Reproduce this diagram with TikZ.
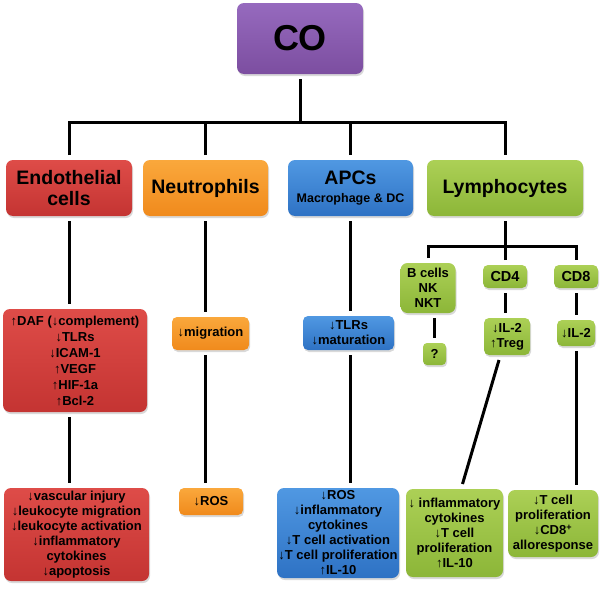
\documentclass[tikz,border=0pt]{standalone}
\usepackage{fontspec}
\setmainfont{Liberation Sans}
\usetikzlibrary{shadows}

\definecolor{purpT}{RGB}{150,106,190}
\definecolor{purpB}{RGB}{124,78,160}
\definecolor{redT}{RGB}{222,76,72}
\definecolor{redB}{RGB}{196,52,50}
\definecolor{oranT}{RGB}{250,168,60}
\definecolor{oranB}{RGB}{240,138,28}
\definecolor{bluT}{RGB}{80,152,226}
\definecolor{bluB}{RGB}{46,114,196}
\definecolor{grnT}{RGB}{172,208,86}
\definecolor{grnB}{RGB}{140,182,56}

\tikzset{
  box/.style={rounded corners=7pt, inner sep=0pt, outer sep=5pt, align=center,
    font=\bfseries\fontsize{13}{15}\selectfont,
    drop shadow={opacity=0.3, shadow xshift=1pt, shadow yshift=-2pt}},
  purpbox/.style={box, top color=purpT, bottom color=purpB},
  redbox/.style={box, top color=redT, bottom color=redB},
  oranbox/.style={box, top color=oranT, bottom color=oranB},
  blubox/.style={box, top color=bluT, bottom color=bluB},
  grnbox/.style={box, top color=grnT, bottom color=grnB},
  head/.style={font=\bfseries\fontsize{19.5}{21}\selectfont},
  link/.style={line width=3pt}
}

\begin{document}
\begin{tikzpicture}[x=1pt,y=-1pt]
\useasboundingbox (0,0) rectangle (600,589);

% top
\node[purpbox, minimum width=126pt, minimum height=71pt, font=\bfseries\fontsize{36}{36}\selectfont] (co) at (300,38.5) {CO};

% cell types
\node[redbox, head, minimum width=126pt, minimum height=56pt] (endo) at (69,188) {Endothelial\\cells};
\node[oranbox, head, minimum width=125pt, minimum height=56pt] (neut) at (205.5,188) {Neutrophils};
\node[blubox, head, minimum width=125pt, minimum height=56pt] (apc) at (350.5,188) {APCs\\[-3pt]{\fontsize{12.5}{14}\selectfont Macrophage \& DC}};
\node[grnbox, head, minimum width=156pt, minimum height=56pt] (lymph) at (505,188) {Lymphocytes};

% lymphocyte subsets
\node[grnbox, minimum width=55pt, minimum height=50pt] (bcell) at (428,288) {B cells\\NK\\NKT};
\node[grnbox, minimum width=44pt, minimum height=23pt, rounded corners=5pt, font=\bfseries\fontsize{14.5}{15}\selectfont] (cd4) at (505,276.5) {CD4};
\node[grnbox, minimum width=44pt, minimum height=23pt, rounded corners=5pt, font=\bfseries\fontsize{14.5}{15}\selectfont] (cd8) at (576,276.5) {CD8};

% middle row
\node[redbox, minimum width=144pt, minimum height=103pt, font=\bfseries\fontsize{13}{16}\selectfont] (endoA) at (75,360.5) {↑DAF (↓complement)\\↓TLRs\\↓ICAM-1\\↑VEGF\\↑HIF-1a\\↑Bcl-2};
\node[oranbox, minimum width=77pt, minimum height=33pt, rounded corners=5pt] (neutA) at (210.5,333.5) {↓migration};
\node[blubox, minimum width=91pt, minimum height=34pt, rounded corners=5pt] (apcA) at (348.5,333) {↓TLRs\\↓maturation};
\node[grnbox, minimum width=23pt, minimum height=22pt, rounded corners=4pt] (unk) at (434.5,354) {?};
\node[grnbox, minimum width=46pt, minimum height=37pt, rounded corners=5pt] (cd4A) at (507,336.5) {↓IL-2\\↑Treg};
\node[grnbox, minimum width=38pt, minimum height=26pt, rounded corners=5pt] (cd8A) at (576,333) {↓IL-2};

% bottom row
\node[redbox, minimum width=145pt, minimum height=93pt] (endoB) at (76.5,534.5) {↓vascular injury\\↓leukocyte migration\\↓leukocyte activation\\↓inflammatory\\cytokines\\↓apoptosis};
\node[oranbox, minimum width=64pt, minimum height=27pt, rounded corners=5pt] (neutB) at (211,501.5) {↓ROS};
\node[blubox, minimum width=122pt, minimum height=90pt] (apcB) at (338,533) {↓ROS\\↓inflammatory\\cytokines\\↓T cell activation\\↓T cell proliferation\\↑IL-10};
\node[grnbox, minimum width=97pt, minimum height=88pt] (cd4B) at (454.5,533) {↓ inflammatory\\cytokines\\↓T cell\\proliferation\\↑IL-10};
\node[grnbox, minimum width=90pt, minimum height=67pt] (cd8B) at (553,523.5) {↓T cell\\proliferation\\↓CD8\textsuperscript{+}\\alloresponse};

% tree
\coordinate (bar) at (300,122);
\coordinate (sub) at (507,246);
\draw[link] (co.south) -- (bar);
\draw[link] (endo.north) |- (lymph.north |- bar) -- (lymph.north);
\draw[link] (neut.north) -- (neut.north |- bar);
\draw[link] (apc.north) -- (apc.north |- bar);

\draw[link] (endo.south) -- (endo.south |- endoA.north);
\draw[link] (endo.south |- endoA.south) -- (endo.south |- endoB.north);
\draw[link] (neut.south) -- (neut.south |- neutA.north);
\draw[link] (neut.south |- neutA.south) -- (neut.south |- neutB.north);
\draw[link] (apc.south) -- (apc.south |- apcA.north);
\draw[link] (apc.south |- apcA.south) -- (apc.south |- apcB.north);

\draw[link] (lymph.south) -- (lymph.south |- sub);
\draw[link] (bcell.north) |- (cd8.north |- sub) -- (cd8.north);
\draw[link] (cd4.north) -- (cd4.north |- sub);
\draw[link] (unk.north |- bcell.south) -- (unk.north);
\draw[link] (cd4.south) -- (cd4.south |- cd4A.north);
\draw[link] (cd8.south) -- (cd8A.north);
\draw[link] ([xshift=-8pt]cd4A.south) -- ([xshift=8pt]cd4B.north);
\draw[link] (cd8A.south) -- (cd8A.south |- cd8B.north);
\end{tikzpicture}
\end{document}
